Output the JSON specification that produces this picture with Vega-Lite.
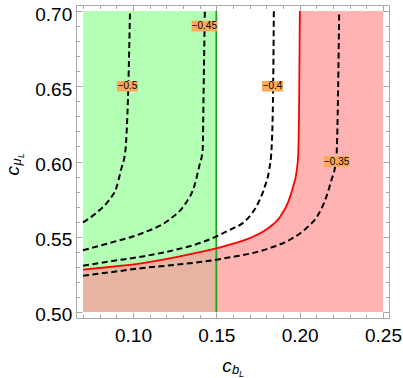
{
  "$schema": "https://vega.github.io/schema/vega-lite/v6.json",
  "width": 313,
  "height": 313,
  "autosize": "none",
  "padding": {"left": 76, "top": 5, "right": 14, "bottom": 60},
  "config": {
    "view": {"stroke": "#a8a8a8", "strokeWidth": 1},
    "font": "Liberation Sans",
    "axis": {"domain": false, "grid": false, "tickColor": "#a8a8a8", "tickWidth": 1, "labelColor": "#000", "titleColor": "#000", "titleFontWeight": "normal", "labelFont": "Liberation Sans", "titleFont": "Liberation Sans"}
  },
  "datasets": {
    "green": [{"x": 0.07, "x2": 0.15, "y": 0.5, "y2": 0.7}],
    "red": [
      {"x": 0.0700, "y": 0.5281},
      {"x": 0.0858, "y": 0.5299},
      {"x": 0.1058, "y": 0.5325},
      {"x": 0.1258, "y": 0.5365},
      {"x": 0.1500, "y": 0.5422},
      {"x": 0.1581, "y": 0.5447},
      {"x": 0.1700, "y": 0.5491},
      {"x": 0.1801, "y": 0.5550},
      {"x": 0.1881, "y": 0.5630},
      {"x": 0.1931, "y": 0.5730},
      {"x": 0.1961, "y": 0.5834},
      {"x": 0.1981, "y": 0.5930},
      {"x": 0.1991, "y": 0.6040},
      {"x": 0.1997, "y": 0.6410},
      {"x": 0.2001, "y": 0.7000},
      {"x": 0.2500, "y": 0.7000}
    ],
    "contours": [
      {"c": "-0.5", "i": 0, "x": 0.0700, "y": 0.5595},
      {"c": "-0.5", "i": 1, "x": 0.0778, "y": 0.5657},
      {"c": "-0.5", "i": 2, "x": 0.0858, "y": 0.5746},
      {"c": "-0.5", "i": 3, "x": 0.0900, "y": 0.5825},
      {"c": "-0.5", "i": 4, "x": 0.0928, "y": 0.5945},
      {"c": "-0.5", "i": 5, "x": 0.0955, "y": 0.6078},
      {"c": "-0.5", "i": 6, "x": 0.0962, "y": 0.6200},
      {"c": "-0.5", "i": 7, "x": 0.0972, "y": 0.6500},
      {"c": "-0.5", "i": 8, "x": 0.0982, "y": 0.7000},
      {"c": "-0.45", "i": 0, "x": 0.0700, "y": 0.5410},
      {"c": "-0.45", "i": 1, "x": 0.0858, "y": 0.5458},
      {"c": "-0.45", "i": 2, "x": 0.1058, "y": 0.5525},
      {"c": "-0.45", "i": 3, "x": 0.1217, "y": 0.5613},
      {"c": "-0.45", "i": 4, "x": 0.1317, "y": 0.5724},
      {"c": "-0.45", "i": 5, "x": 0.1367, "y": 0.5834},
      {"c": "-0.45", "i": 6, "x": 0.1397, "y": 0.5967},
      {"c": "-0.45", "i": 7, "x": 0.1418, "y": 0.6078},
      {"c": "-0.45", "i": 8, "x": 0.1424, "y": 0.6500},
      {"c": "-0.45", "i": 9, "x": 0.1431, "y": 0.7000},
      {"c": "-0.4", "i": 0, "x": 0.0700, "y": 0.5307},
      {"c": "-0.4", "i": 1, "x": 0.0858, "y": 0.5336},
      {"c": "-0.4", "i": 2, "x": 0.1058, "y": 0.5369},
      {"c": "-0.4", "i": 3, "x": 0.1258, "y": 0.5414},
      {"c": "-0.4", "i": 4, "x": 0.1401, "y": 0.5458},
      {"c": "-0.4", "i": 5, "x": 0.1501, "y": 0.5502},
      {"c": "-0.4", "i": 6, "x": 0.1581, "y": 0.5546},
      {"c": "-0.4", "i": 7, "x": 0.1681, "y": 0.5613},
      {"c": "-0.4", "i": 8, "x": 0.1751, "y": 0.5724},
      {"c": "-0.4", "i": 9, "x": 0.1791, "y": 0.5834},
      {"c": "-0.4", "i": 10, "x": 0.1817, "y": 0.5945},
      {"c": "-0.4", "i": 11, "x": 0.1831, "y": 0.6078},
      {"c": "-0.4", "i": 12, "x": 0.1841, "y": 0.6500},
      {"c": "-0.4", "i": 13, "x": 0.1845, "y": 0.7000},
      {"c": "-0.35", "i": 0, "x": 0.0700, "y": 0.5241},
      {"c": "-0.35", "i": 1, "x": 0.0858, "y": 0.5263},
      {"c": "-0.35", "i": 2, "x": 0.1058, "y": 0.5292},
      {"c": "-0.35", "i": 3, "x": 0.1258, "y": 0.5314},
      {"c": "-0.35", "i": 4, "x": 0.1500, "y": 0.5347},
      {"c": "-0.35", "i": 5, "x": 0.1581, "y": 0.5363},
      {"c": "-0.35", "i": 6, "x": 0.1700, "y": 0.5387},
      {"c": "-0.35", "i": 7, "x": 0.1821, "y": 0.5425},
      {"c": "-0.35", "i": 8, "x": 0.1941, "y": 0.5480},
      {"c": "-0.35", "i": 9, "x": 0.2041, "y": 0.5558},
      {"c": "-0.35", "i": 10, "x": 0.2111, "y": 0.5646},
      {"c": "-0.35", "i": 11, "x": 0.2161, "y": 0.5768},
      {"c": "-0.35", "i": 12, "x": 0.2191, "y": 0.5878},
      {"c": "-0.35", "i": 13, "x": 0.2211, "y": 0.5956},
      {"c": "-0.35", "i": 14, "x": 0.2221, "y": 0.6033},
      {"c": "-0.35", "i": 15, "x": 0.2231, "y": 0.6500},
      {"c": "-0.35", "i": 16, "x": 0.2237, "y": 0.7000}
    ],
    "labels": [
      {"label": "−0.5", "x": 0.0967, "y": 0.650},
      {"label": "−0.45", "x": 0.1428, "y": 0.690},
      {"label": "−0.4", "x": 0.1837, "y": 0.650},
      {"label": "−0.35", "x": 0.2222, "y": 0.600}
    ]
  },
  "layer": [
    {
      "data": {"name": "green"},
      "mark": {"type": "rect", "color": "#b3ffb3"},
      "encoding": {
        "x": {"field": "x", "type": "quantitative", "scale": {"domain": [0.0658, 0.2536], "nice": false, "zero": false},
          "axis": {"orient": "top", "values": [0.07,0.08,0.09,0.1,0.11,0.12,0.13,0.14,0.15,0.16,0.17,0.18,0.19,0.2,0.21,0.22,0.23,0.24,0.25],
            "tickSize": {"condition": {"test": "round(datum.value*100) % 5 === 0", "value": -6}, "value": -3.5},
            "labels": false, "title": null}},
        "x2": {"field": "x2"},
        "y": {"field": "y", "type": "quantitative", "scale": {"domain": [0.496, 0.704], "nice": false, "zero": false},
          "axis": {"orient": "right", "values": [0.5,0.51,0.52,0.53,0.54,0.55,0.56,0.57,0.58,0.59,0.6,0.61,0.62,0.63,0.64,0.65,0.66,0.67,0.68,0.69,0.7],
            "tickSize": {"condition": {"test": "round(datum.value*100) % 5 === 0", "value": -6}, "value": -3.5},
            "labels": false, "title": null}},
        "y2": {"field": "y2"}
      }
    },
    {
      "data": {"name": "red"},
      "mark": {"type": "area", "color": "#ffb3b3", "opacity": 1, "interpolate": "monotone"},
      "encoding": {
        "x": {"field": "x", "type": "quantitative", "scale": {"domain": [0.0658, 0.2536], "nice": false, "zero": false},
          "axis": {"orient": "bottom", "values": [0.07,0.08,0.09,0.1,0.11,0.12,0.13,0.14,0.15,0.16,0.17,0.18,0.19,0.2,0.21,0.22,0.23,0.24,0.25],
            "tickSize": {"condition": {"test": "round(datum.value*100) % 5 === 0", "value": -6}, "value": -3.5},
            "labelExpr": "round(datum.value*100) % 5 === 0 ? format(datum.value, '.2f') : ''",
            "labelFontSize": 19, "labelPadding": 14.3, "labelFlush": false, "labelOverlap": false, "labelBound": false,
            "title": "c", "titleFontSize": 19, "titleFontStyle": "italic", "titleX": 145.7, "titleY": 53.5, "titleAlign": "left", "titleBaseline": "alphabetic"}},
        "y": {"field": "y", "type": "quantitative", "scale": {"domain": [0.496, 0.704], "nice": false, "zero": false},
          "axis": {"orient": "left", "values": [0.5,0.51,0.52,0.53,0.54,0.55,0.56,0.57,0.58,0.59,0.6,0.61,0.62,0.63,0.64,0.65,0.66,0.67,0.68,0.69,0.7],
            "tickSize": {"condition": {"test": "round(datum.value*100) % 5 === 0", "value": -6}, "value": -3.5},
            "labelExpr": "round(datum.value*100) % 5 === 0 ? format(datum.value, '.2f') : ''",
            "labelFontSize": 19, "labelPadding": 10.3, "labelOffset": 3, "labelFlush": false, "labelOverlap": false, "labelBound": false,
            "title": "c", "titleFontSize": 19, "titleFontStyle": "italic", "titleAngle": 270, "titleX": -58, "titleY": 170, "titleAlign": "left", "titleBaseline": "alphabetic"}},
        "y2": {"datum": 0.5}
      }
    },
    {
      "data": {"name": "red"},
      "transform": [{"filter": "datum.x <= 0.15"}],
      "mark": {"type": "area", "color": "#e6b4a0", "opacity": 1, "interpolate": "monotone"},
      "encoding": {
        "x": {"field": "x", "type": "quantitative", "scale": {"domain": [0.0658, 0.2536], "nice": false, "zero": false}, "axis": null},
        "y": {"field": "y", "type": "quantitative", "scale": {"domain": [0.496, 0.704], "nice": false, "zero": false}, "axis": null},
        "y2": {"datum": 0.5}
      }
    },
    {
      "data": {"name": "green"},
      "mark": {"type": "rule", "color": "#1aa51a", "strokeWidth": 1.8},
      "encoding": {
        "x": {"field": "x2", "type": "quantitative", "scale": {"domain": [0.0658, 0.2536], "nice": false, "zero": false}, "axis": null},
        "y": {"field": "y", "type": "quantitative", "scale": {"domain": [0.496, 0.704], "nice": false, "zero": false}, "axis": null},
        "y2": {"field": "y2"}
      }
    },
    {
      "data": {"name": "red"},
      "transform": [{"filter": "datum.x < 0.25"}],
      "mark": {"type": "line", "color": "#ff0000", "strokeWidth": 1.8, "interpolate": "monotone"},
      "encoding": {
        "x": {"field": "x", "type": "quantitative", "scale": {"domain": [0.0658, 0.2536], "nice": false, "zero": false}, "axis": null},
        "y": {"field": "y", "type": "quantitative", "scale": {"domain": [0.496, 0.704], "nice": false, "zero": false}, "axis": null}
      }
    },
    {
      "data": {"name": "contours"},
      "mark": {"type": "line", "color": "#000000", "strokeWidth": 2, "strokeDash": [6, 3.5], "interpolate": "monotone"},
      "encoding": {
        "x": {"field": "x", "type": "quantitative", "scale": {"domain": [0.0658, 0.2536], "nice": false, "zero": false}, "axis": null},
        "y": {"field": "y", "type": "quantitative", "scale": {"domain": [0.496, 0.704], "nice": false, "zero": false}, "axis": null},
        "detail": {"field": "c"},
        "order": {"field": "i", "type": "quantitative"}
      }
    },
    {
      "data": {"name": "labels"},
      "mark": {"type": "point", "filled": true, "color": "#fba95b", "opacity": 1, "strokeWidth": 0},
      "encoding": {
        "x": {"field": "x", "type": "quantitative", "scale": {"domain": [0.0658, 0.2536], "nice": false, "zero": false},
          "axis": {"orient": "bottom", "ticks": false, "labels": false, "title": "b", "titleFontSize": 13, "titleFontStyle": "italic", "titleX": 155.5, "titleY": 55.5, "titleAlign": "left", "titleBaseline": "alphabetic"}},
        "y": {"field": "y", "type": "quantitative", "scale": {"domain": [0.496, 0.704], "nice": false, "zero": false},
          "axis": {"orient": "left", "ticks": false, "labels": false, "title": "μ", "titleFontSize": 13, "titleFontStyle": "italic", "titleAngle": 270, "titleX": -56, "titleY": 160, "titleAlign": "left", "titleBaseline": "alphabetic"}},
        "shape": {"condition": {"test": "length(datum.label) > 4", "value": "M-1,-0.42H1V0.42H-1Z"}, "value": "M-1,-0.5H1V0.5H-1Z"},
        "size": {"condition": {"test": "length(datum.label) > 4", "value": 650}, "value": 441}
      }
    },
    {
      "data": {"name": "labels"},
      "mark": {"type": "text", "fontSize": 10, "color": "#000000", "align": "center", "baseline": "middle", "font": "Liberation Sans"},
      "encoding": {
        "x": {"field": "x", "type": "quantitative", "scale": {"domain": [0.0658, 0.2536], "nice": false, "zero": false},
          "axis": {"orient": "bottom", "ticks": false, "labels": false, "title": "L", "titleFontSize": 9, "titleFontStyle": "italic", "titleX": 162.5, "titleY": 58, "titleAlign": "left", "titleBaseline": "alphabetic"}},
        "y": {"field": "y", "type": "quantitative", "scale": {"domain": [0.496, 0.704], "nice": false, "zero": false},
          "axis": {"orient": "left", "ticks": false, "labels": false, "title": "L", "titleFontSize": 9, "titleFontStyle": "italic", "titleAngle": 270, "titleX": -53, "titleY": 152.5, "titleAlign": "left", "titleBaseline": "alphabetic"}},
        "text": {"field": "label"}
      }
    }
  ],
  "resolve": {"axis": {"x": "independent", "y": "independent"}}
}
